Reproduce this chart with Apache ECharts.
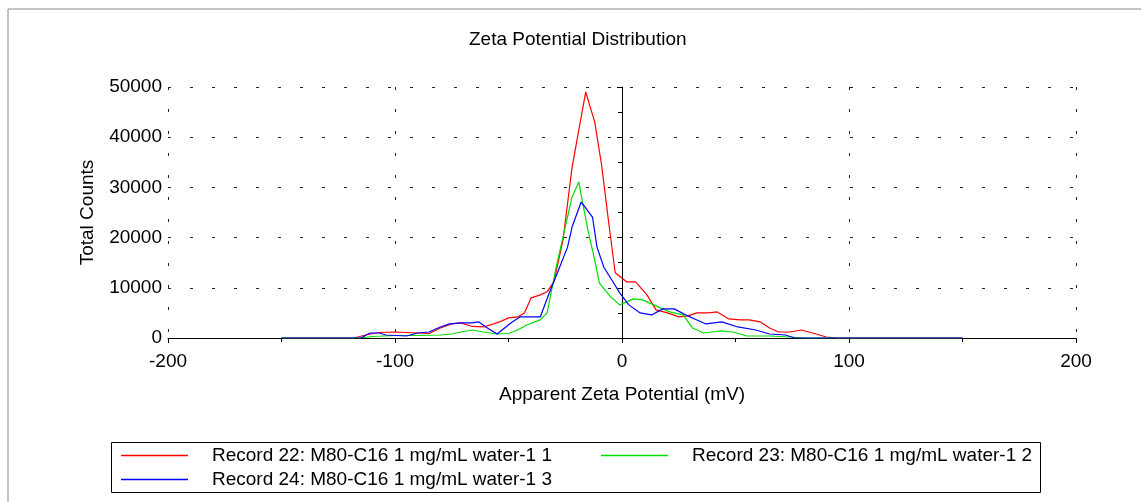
<!DOCTYPE html>
<html>
<head>
<meta charset="utf-8">
<script src="https://cdn.jsdelivr.net/npm/echarts@6/dist/echarts.min.js"></script>
<style>
  html, body { margin: 0; padding: 0; background: #fff; }
  #zeta { width: 1141px; height: 502px; }
</style>
</head>
<body>
<div id="zeta"></div>
<script>
// readings (mV, counts)
var rec22X = [-150, -118, -113, -107, -100, -95, -90, -85, -80, -75, -71, -66, -61, -58, -54, -50, -46, -43, -40, -36,
    -33, -30, -26, -22, -16, -12, -9, -6, -3, 2, 6, 11, 15, 20, 25, 29, 33, 38, 42, 47, 52, 56, 61, 65, 69, 74, 79, 84, 90, 95, 150];
var rec22Y = [0, 0, 600, 1100, 1200, 1100, 1000, 900, 2000, 2800, 3000, 2300, 2200, 2600, 3200, 4000, 4200, 5000, 8000, 8600,
    9200, 11200, 19500, 34000, 49000, 43000, 34500, 23500, 13000, 11200, 11200, 8600, 5600, 5000, 4200, 4400, 5000, 5000, 5200, 3800,
    3600, 3600, 3200, 2000, 1200, 1200, 1600, 1000, 200, 0, 0];

var rec23X = [-150, -115, -110, -100, -90, -80, -75, -71, -66, -61, -55, -50, -46, -42, -36, -33, -29, -24, -22, -19,
    -18, -15, -12, -10, -5, -1, 2, 5, 9, 14, 21, 27, 31, 36, 43, 49, 55, 65, 74, 80, 150];
var rec23Y = [0, 0, 300, 500, 500, 600, 800, 1200, 1600, 1200, 800, 900, 1600, 2600, 3600, 5000, 14100, 24100, 28100, 31100,
    28500, 21500, 15500, 11000, 8200, 6600, 7200, 7800, 7600, 6600, 5200, 4600, 2000, 1000, 1400, 1200, 400, 400, 200, 0, 0];

var rec24X = [-150, -115, -111, -107, -104, -95, -90, -85, -80, -76, -71, -66, -63, -60, -55, -49, -45, -36, -32, -28,
    -24, -22, -18, -13, -11, -8, -4, -1, 3, 8, 13, 18, 23, 29, 33, 37, 44, 51, 59, 65, 72, 76, 150];
var rec24Y = [0, 0, 1000, 1000, 600, 400, 1000, 1200, 2200, 2800, 3000, 3000, 3200, 2200, 800, 3000, 4200, 4200, 9000, 13500,
    18100, 22100, 27100, 24100, 18100, 14100, 11200, 9000, 6600, 5000, 4600, 5800, 5800, 4400, 3600, 2800, 3200, 2200, 1600, 800,
    600, 0, 0];

var names = ['Record 22: M80-C16 1 mg/mL water-1 1', 'Record 23: M80-C16 1 mg/mL water-1 2', 'Record 24: M80-C16 1 mg/mL water-1 3'];
var colors = ['#ff0000', '#00dd00', '#0000ff'];

function pairs(xs, ys) {
    return xs.map(function (x, i) { return [x, ys[i]]; });
}

var font = 'Liberation Sans, Arial, sans-serif';
var fs = 19;
var dotted = { color: '#222', width: 1, type: [3, 19] };

function legendText() {
    return { fontFamily: font, fontSize: fs, color: '#000', lineHeight: 19, padding: [0, 0, 0, 19] };
}
function legendItem(i) {
    return { name: names[i], itemStyle: { color: colors[i], borderWidth: 0 } };
}

var myChart = echarts.init(document.getElementById('zeta'));

var option = {
    animation: false,
    color: colors,
    title: {
        text: 'Zeta Potential Distribution',
        left: 469,
        top: 30,
        padding: 0,
        textStyle: { fontFamily: font, fontSize: fs, fontWeight: 'normal', color: '#000' }
    },
    graphic: [
        { type: 'polyline', shape: { points: [[8, 502], [8, 9], [1141, 9]] }, style: { stroke: '#888', lineWidth: 1, fill: null } },
        { type: 'rect', shape: { x: 111.5, y: 442.5, width: 929, height: 50 }, style: { stroke: '#000', lineWidth: 1, fill: null } }
    ],
    legend: [{
        left: 121, top: 446, padding: 0, itemGap: 49,
        itemWidth: 67, itemHeight: 1.5, icon: 'rect',
        data: [legendItem(0), legendItem(1)],
        textStyle: legendText()
    }, {
        left: 121, top: 470, padding: 0,
        itemWidth: 67, itemHeight: 1.5, icon: 'rect',
        data: [legendItem(2)],
        textStyle: legendText()
    }],
    grid: { left: 168, right: 65, top: 87, bottom: 164 },
    xAxis: {
        type: 'value', min: -200, max: 200, interval: 100,
        name: 'Apparent Zeta Potential (mV)', nameLocation: 'middle', nameGap: 47,
        nameTextStyle: { fontFamily: font, fontSize: fs, color: '#000' },
        axisLine: { lineStyle: { color: '#000', width: 1 } },
        axisTick: { show: true, length: 5, lineStyle: { color: '#000' } },
        minorTick: { show: true, splitNumber: 2, length: 4, lineStyle: { color: '#000' } },
        axisLabel: { fontFamily: font, fontSize: fs, color: '#000', margin: 14 },
        splitLine: { show: true, lineStyle: dotted }
    },
    yAxis: {
        type: 'value', min: 0, max: 50000, interval: 10000,
        name: 'Total Counts', nameLocation: 'middle', nameGap: 71, nameRotate: 90,
        nameTextStyle: { fontFamily: font, fontSize: fs, color: '#000' },
        axisLine: { show: true, lineStyle: { color: '#000', width: 1 } },
        axisTick: { show: true, length: 5, lineStyle: { color: '#000' } },
        minorTick: { show: true, splitNumber: 2, length: 4, lineStyle: { color: '#000' } },
        axisLabel: { fontFamily: font, fontSize: fs, color: '#000', margin: 6, formatter: function (v) { return String(v); } },
        splitLine: { show: true, lineStyle: dotted }
    },
    series: [
        { name: names[0], type: 'line', symbol: 'none', lineStyle: { width: 1.2 }, data: pairs(rec22X, rec22Y) },
        { name: names[1], type: 'line', symbol: 'none', lineStyle: { width: 1.2 }, data: pairs(rec23X, rec23Y) },
        { name: names[2], type: 'line', symbol: 'none', lineStyle: { width: 1.2 }, data: pairs(rec24X, rec24Y) }
    ]
};

myChart.setOption(option);
</script>
</body>
</html>
